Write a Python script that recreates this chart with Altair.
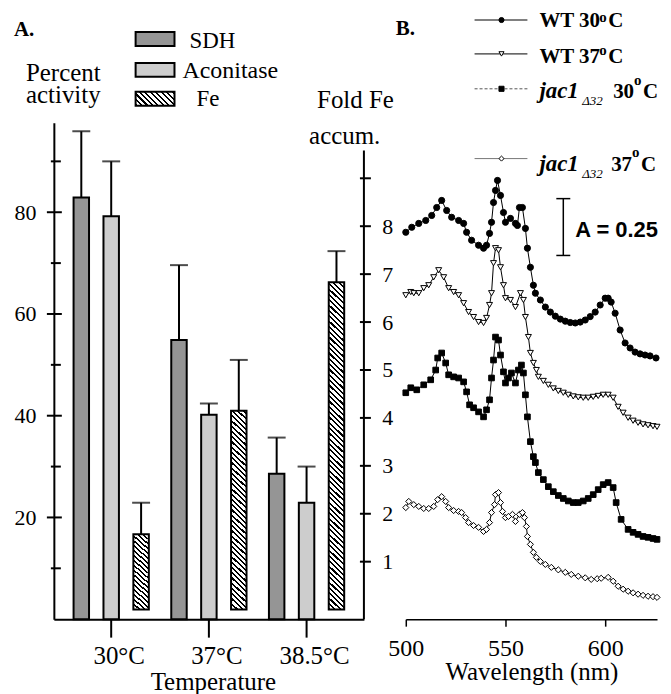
import math
import altair as alt
import pandas as pd

SERIF = "Liberation Serif"
SANS = "Liberation Sans"

# ---------------- Panel A data ----------------
temps = ["30°C", "37°C", "38.5°C"]
measures = ["SDH", "Aconitase", "Fe"]
sdh = [82.9, 54.9, 28.6]
sdh_err = [13.0, 14.7, 7.1]
acon = [79.2, 40.2, 22.9]
acon_err = [10.8, 2.2, 7.1]
fe = [1.57, 4.15, 6.83]
fe_err = [0.66, 1.06, 0.65]
pct_major = [20, 40, 60, 80]
pct_minor = [10, 30, 50, 70, 90]
fold_ticks = [1, 2, 3, 4, 5, 6, 7, 8, 9]
fold_labels = [1, 2, 3, 4, 5, 6, 7, 8]
fold_axis_span = [-0.2, 9.58]

# ---------------- Panel B data (offset absorbance) ----------------
wt30_nm = [500, 503, 506.5, 510, 513, 515.5, 518, 520.5, 523, 526.5,
           529, 530.5, 533, 536.5, 539, 540.5, 542, 543, 544, 545,
           546, 547.5, 549, 550, 552.5, 555, 556, 557, 558.5, 560,
           561, 562.5, 564, 565, 567.5, 570, 572.5, 575, 577.5, 580,
           582.5, 585, 587.5, 590, 592.5, 595, 597.5, 600, 601.5, 603,
           605, 607.5, 610, 612.5, 615, 617.5, 620, 622.5, 625.5]
wt30_a = [1.702, 1.724, 1.741, 1.754, 1.776, 1.811, 1.842, 1.798, 1.768, 1.754,
          1.741, 1.702, 1.667, 1.645, 1.632, 1.645, 1.697, 1.746, 1.833, 1.886,
          1.930, 1.864, 1.789, 1.746, 1.763, 1.741, 1.732, 1.811, 1.811, 1.719,
          1.632, 1.548, 1.469, 1.434, 1.404, 1.373, 1.351, 1.333, 1.320, 1.311,
          1.305, 1.303, 1.307, 1.316, 1.331, 1.351, 1.382, 1.412, 1.412, 1.395,
          1.346, 1.272, 1.215, 1.193, 1.175, 1.167, 1.162, 1.158, 1.149]

wt37_nm = [500, 502.5, 504, 506.5, 509, 511.5, 514, 516.5, 519, 521.5,
           524, 526.5, 529, 531.5, 534, 536.5, 539, 540.5, 542, 543,
           544, 545, 546.5, 547.5, 549, 550, 552.5, 555, 557.5, 559,
           560, 561.5, 562.5, 564, 565.5, 566.5, 569, 571.5, 574, 576.5,
           579, 581.5, 584, 586.5, 589, 591.5, 594, 596.5, 599, 601.5,
           604, 606.5, 609, 611.5, 614, 616.5, 619, 621.5, 624, 626]
wt37_a = [1.425, 1.439, 1.434, 1.434, 1.456, 1.469, 1.504, 1.535, 1.504, 1.456,
          1.439, 1.425, 1.390, 1.351, 1.329, 1.307, 1.303, 1.325, 1.382, 1.434,
          1.566, 1.632, 1.623, 1.548, 1.469, 1.412, 1.404, 1.373, 1.434, 1.404,
          1.329, 1.241, 1.171, 1.127, 1.096, 1.066, 1.048, 1.031, 1.015, 1.004,
          0.996, 0.987, 0.980, 0.976, 0.974, 0.974, 0.978, 0.982, 0.987, 0.987,
          0.974, 0.934, 0.908, 0.886, 0.873, 0.864, 0.857, 0.853, 0.849, 0.846]

jac30_nm = [500, 502.5, 505.5, 509, 512.5, 515, 516, 518, 520, 521.5,
            524, 526.5, 529, 530.5, 532, 534, 536.5, 539, 540.5, 542,
            543, 544, 545, 546.5, 547.5, 549, 550, 551.5, 553, 555,
            556.5, 558, 559, 560, 561, 562.5, 564, 565, 566.5, 569,
            571.5, 574, 576.5, 579, 581.5, 584, 586.5, 589, 591.5, 594,
            596.5, 599, 601.5, 604, 605.5, 608, 611.5, 614, 616.5, 619,
            621.5, 624, 626]
jac30_a = [0.996, 1.018, 1.009, 1.031, 1.053, 1.096, 1.149, 1.171, 1.127, 1.075,
           1.066, 1.061, 1.044, 1.000, 0.943, 0.930, 0.912, 0.890, 0.921, 0.965,
           1.061, 1.140, 1.241, 1.228, 1.162, 1.088, 1.039, 1.061, 1.083, 1.039,
           1.096, 1.118, 1.083, 0.987, 0.890, 0.781, 0.715, 0.689, 0.645, 0.614,
           0.583, 0.561, 0.544, 0.531, 0.520, 0.513, 0.513, 0.520, 0.531, 0.548,
           0.570, 0.592, 0.601, 0.579, 0.513, 0.439, 0.395, 0.382, 0.373, 0.364,
           0.360, 0.355, 0.351]

jac37_nm = [500, 501.5, 504, 506.5, 509, 511.5, 514, 516, 518, 520,
            521.5, 524, 526.5, 528, 530, 531.5, 534, 536.5, 539, 540.5,
            542, 543, 544.5, 545, 546.5, 547.5, 548.5, 550, 551.5, 553.5,
            555, 557, 558.5, 559.5, 560.5, 561, 562.5, 564, 565.5, 567.5,
            570, 573, 576.5, 580, 583, 586.5, 590, 593, 596, 598,
            601.5, 604, 606.5, 609, 611.5, 614, 616.5, 619, 621.5, 624,
            626]
jac37_a = [0.491, 0.518, 0.504, 0.496, 0.487, 0.487, 0.496, 0.526, 0.539, 0.518,
           0.491, 0.478, 0.474, 0.469, 0.447, 0.425, 0.412, 0.404, 0.386, 0.395,
           0.425, 0.469, 0.504, 0.548, 0.557, 0.513, 0.474, 0.447, 0.452, 0.461,
           0.430, 0.461, 0.469, 0.447, 0.408, 0.364, 0.329, 0.294, 0.272, 0.254,
           0.241, 0.228, 0.217, 0.206, 0.197, 0.189, 0.182, 0.175, 0.178, 0.180,
           0.184, 0.167, 0.145, 0.132, 0.123, 0.116, 0.110, 0.105, 0.101, 0.099,
           0.096]

wl_ticks = [500, 550, 600]
scale_bar_nm = 579
scale_bar = [1.60, 1.85]          # A = 0.25
scale_cap_nm = [575.5, 582.5]

# ---------------- layout ----------------
WA, H, WB = 311, 498, 252
PCT_DOM = [0, 97.6]
FOLD_DOM = [-0.2, 10.16]
G_PO = 0.087
O_PI, O_PO = 0.483, 0.375
ANCHOR_X, ANCHOR_Y = -50, -130          # invisible layout anchor (top-left bound)
PAD_LEFT, PAD_TOP = 46 + ANCHOR_X, 114 + ANCHOR_Y

dummy = alt.Data(values=[{"k": 1}])


def txt(s, x, y, size=24, weight="normal", style="normal", font=SERIF,
        align="left", baseline="alphabetic"):
    return alt.Chart(dummy).mark_text(
        text=s, align=align, baseline=baseline, font=font, fontSize=size,
        fontWeight=weight, fontStyle=style, color="black"
    ).encode(x=alt.value(x), y=alt.value(y))


def hatch(w, h, period=5.5, frac=0.4):
    perp = period / math.sqrt(2)
    n = (w + h) / math.sqrt(2) / perp
    s = (w + h) / (w * w + h * h)
    stops = []
    k = 0
    while k / n < 1:
        a = round(k / n, 5)
        b = round(min((k + frac) / n, 1), 5)
        c = round(min((k + 1) / n, 1), 5)
        stops += [{"offset": a, "color": "black"}, {"offset": b, "color": "black"},
                  {"offset": b, "color": "white"}, {"offset": c, "color": "white"}]
        k += 1
    return {"gradient": "linear", "x1": 0, "y1": 1, "x2": s * w, "y2": 1 - s * h,
            "stops": stops}


step_g = WA / (3 + 2 * G_PO)
bar_w = step_g / (3 - O_PI + 2 * O_PO) * (1 - O_PI)

x_scale = alt.Scale(domain=temps, paddingInner=0, paddingOuter=G_PO)
xo_scale = alt.Scale(domain=measures, paddingInner=O_PI, paddingOuter=O_PO)
pct_scale = alt.Scale(domain=PCT_DOM, nice=False, zero=False)
fold_scale = alt.Scale(domain=FOLD_DOM, nice=False, zero=False)

x_axis = alt.Axis(title="Temperature", labelFontSize=25, labelOffset=8, labelPadding=6,
                  tickSize=18, tickWidth=2, domainWidth=2, titleFontSize=25,
                  titlePadding=2, labelAngle=0, titleX=WA / 2 + 4)
x_enc = alt.X("temp:N", scale=x_scale, axis=x_axis)
xo_enc = alt.XOffset("measure:N", scale=xo_scale)

left_axis = alt.Axis(orient="left", values=pct_major, ticks=False, domainWidth=2,
                     labelPadding=18, labelFontSize=22, title=None, grid=False)
right_axis = alt.Axis(orient="right", values=fold_labels, ticks=False, domain=False,
                      labelPadding=18, labelFontSize=22, title=None, grid=False)


def ypct(f):
    return alt.Y(f, scale=pct_scale, axis=left_axis)


def yfold(f):
    return alt.Y(f, scale=fold_scale, axis=right_axis)


df_act = pd.DataFrame({
    "temp": temps * 2,
    "measure": ["SDH"] * 3 + ["Aconitase"] * 3,
    "value": sdh + acon,
    "err": sdh_err + acon_err,
})
df_act["upper"] = df_act["value"] + df_act["err"]

df_fe = pd.DataFrame({"temp": temps, "measure": ["Fe"] * 3, "value": fe, "err": fe_err})
df_fe["upper"] = df_fe["value"] + df_fe["err"]

bars_act = alt.Chart(df_act).mark_bar(stroke="black", strokeWidth=2).encode(
    x=x_enc, xOffset=xo_enc, y=ypct("value:Q"),
    color=alt.Color("measure:N", scale=alt.Scale(domain=["SDH", "Aconitase"],
                                                 range=["#959595", "#cdcdcd"]), legend=None))
err_act = alt.Chart(df_act).mark_rule(color="black", strokeWidth=2).encode(
    x=x_enc, xOffset=xo_enc, y=ypct("value:Q"), y2="upper:Q")
cap_act = alt.Chart(df_act).mark_tick(color="black", thickness=2, size=18).encode(
    x=x_enc, xOffset=xo_enc, y=ypct("upper:Q"))

tick_major = alt.Chart(pd.DataFrame({"v": pct_major})).mark_rule(color="black", strokeWidth=2).encode(
    x=alt.value(-7), x2=alt.value(8), y=ypct("v:Q"))
tick_minor = alt.Chart(pd.DataFrame({"v": pct_minor})).mark_rule(color="black", strokeWidth=2).encode(
    x=alt.value(-3), x2=alt.value(7), y=ypct("v:Q"))

anchor = alt.Chart(dummy).mark_rule(strokeWidth=0.01, opacity=0).encode(
    x=alt.value(ANCHOR_X), x2=alt.value(ANCHOR_X + 1),
    y=alt.value(ANCHOR_Y), y2=alt.value(ANCHOR_Y + 1))

annotA = [
    anchor,
    txt("A.", -40, -87, size=21, weight="bold"),
    txt("Percent", -28, -42, size=25),
    txt("activity", -28, -20, size=25),
    txt("Fold Fe", 264, -15, size=25),
    txt("accum.", 256, 21, size=25),
    txt("SDH", 136, -75, size=23),
    txt("Aconitase", 129, -45, size=24),
    txt("Fe", 143, -17, size=23),
    alt.Chart(dummy).mark_rect(fill="#959595", stroke="black", strokeWidth=2).encode(
        x=alt.value(82), x2=alt.value(121), y=alt.value(-91), y2=alt.value(-77)),
    alt.Chart(dummy).mark_rect(fill="#cdcdcd", stroke="black", strokeWidth=2).encode(
        x=alt.value(82), x2=alt.value(121), y=alt.value(-60), y2=alt.value(-46)),
    alt.Chart(dummy).mark_rect(fill=hatch(39, 14), stroke="black", strokeWidth=2).encode(
        x=alt.value(82), x2=alt.value(121), y=alt.value(-31), y2=alt.value(-17)),
]

fe_layers = []
for i, t in enumerate(temps):
    h_px = H * (fe[i] - FOLD_DOM[0]) / (FOLD_DOM[1] - FOLD_DOM[0])
    fe_layers.append(
        alt.Chart(df_fe[df_fe["temp"] == t]).mark_bar(
            fill=hatch(bar_w, h_px), stroke="black", strokeWidth=2).encode(
            x=x_enc, xOffset=xo_enc, y=yfold("value:Q"), y2=alt.value(H)))
err_fe = alt.Chart(df_fe).mark_rule(color="black", strokeWidth=2).encode(
    x=x_enc, xOffset=xo_enc, y=yfold("value:Q"), y2="upper:Q")
cap_fe = alt.Chart(df_fe).mark_tick(color="black", thickness=2, size=18).encode(
    x=x_enc, xOffset=xo_enc, y=yfold("upper:Q"))
raxis = alt.Chart(pd.DataFrame({"lo": [fold_axis_span[0]], "hi": [fold_axis_span[1]]})).mark_rule(
    color="black", strokeWidth=2).encode(x=alt.value(WA), y=yfold("lo:Q"), y2="hi:Q")
rticks = alt.Chart(pd.DataFrame({"v": fold_ticks})).mark_rule(color="black", strokeWidth=2).encode(
    x=alt.value(WA - 4), x2=alt.value(WA + 7), y=yfold("v:Q"))

left_group = alt.layer(bars_act, err_act, cap_act, tick_major, tick_minor, *annotA)
fe_group = alt.layer(*fe_layers, err_fe, cap_fe, raxis, rticks)
panelA = alt.layer(left_group, fe_group).resolve_scale(y="independent").properties(
    width=WA, height=H)

# ---------------- Panel B ----------------
xs_b = alt.Scale(domain=[500, 626], nice=False, zero=False)
ys_b = alt.Scale(domain=[0, 2.184], nice=False, zero=False)
xb_axis = alt.Axis(values=wl_ticks, title="Wavelength (nm)", tickSize=7, tickWidth=1.5,
                   domainWidth=1.5, labelFontSize=24, labelPadding=10, labelFlush=False,
                   titleFontSize=25, titlePadding=0, grid=False)


def xb(f):
    return alt.X(f, scale=xs_b, axis=xb_axis)


def yb(f):
    return alt.Y(f, scale=ys_b, axis=None)


series = [
    (wt30_nm, wt30_a, "circle", "black", 38),
    (wt37_nm, wt37_a, "triangle-down", "white", 36),
    (jac30_nm, jac30_a, "square", "black", 32),
    (jac37_nm, jac37_a, "diamond", "white", 38),
]
layersB = []
for nm, a, shape, fill, size in series:
    df = pd.DataFrame({"nm": nm, "A": a})
    base = alt.Chart(df).encode(x=xb("nm:Q"), y=yb("A:Q"))
    layersB.append(base.mark_line(color="black", strokeWidth=1))
    layersB.append(base.mark_point(shape=shape, filled=True, fill=fill, stroke="black",
                                   strokeWidth=1, size=size, opacity=1))

bar_df = pd.DataFrame({"nm": [scale_bar_nm], "lo": [scale_bar[0]], "hi": [scale_bar[1]]})
layersB.append(alt.Chart(bar_df).mark_rule(color="black", strokeWidth=1.5).encode(
    x=xb("nm:Q"), y=yb("lo:Q"), y2="hi:Q"))
cap_df = pd.DataFrame({"a": [scale_cap_nm[0]] * 2, "b": [scale_cap_nm[1]] * 2, "y": scale_bar})
layersB.append(alt.Chart(cap_df).mark_rule(color="black", strokeWidth=1.5).encode(
    x=xb("a:Q"), x2="b:Q", y=yb("y:Q")))

# legend B
leg_rows = [(-103, "circle", "black", "black", None),
            (-69, "triangle-down", "white", "black", None),
            (-34, "square", "black", "#555555", [3, 2]),
            (36, "diamond", "white", "#777777", None)]
for y, shape, fill, lcol, dash in leg_rows:
    kw = {"strokeDash": dash} if dash else {}
    layersB.append(alt.Chart(dummy).mark_rule(color=lcol, strokeWidth=1, **kw).encode(
        x=alt.value(69), x2=alt.value(122), y=alt.value(y)))
    layersB.append(alt.Chart(dummy).mark_point(shape=shape, filled=True, fill=fill, stroke="black",
                                               strokeWidth=1, size=26, opacity=1).encode(
        x=alt.value(96), y=alt.value(y)))

annotB = [
    txt("B.", -10, -88, size=21, weight="bold"),
    txt("WT 30", 134, -96, size=21, weight="bold"),
    txt("o", 194, -101, size=15, weight="bold"),
    txt("C", 203, -96, size=21, weight="bold"),
    txt("WT 37", 134, -60, size=21, weight="bold"),
    txt("o", 194, -68, size=15, weight="bold"),
    txt("C", 203, -60, size=21, weight="bold"),
    txt("jac1", 134, -25, size=23, weight="bold", style="italic"),
    txt("Δ32", 177, -18, size=13, style="italic"),
    txt("30", 208, -25, size=21, weight="bold"),
    txt("o", 229, -38, size=15, weight="bold"),
    txt("C", 238, -25, size=21, weight="bold"),
    txt("jac1", 134, 48, size=23, weight="bold", style="italic"),
    txt("Δ32", 177, 55, size=13, style="italic"),
    txt("37", 206, 48, size=21, weight="bold"),
    txt("o", 227, 34, size=15, weight="bold"),
    txt("C", 236, 48, size=21, weight="bold"),
    txt("A = 0.25", 170, 115, size=22, weight="bold", font=SANS),
]

panelB = alt.layer(*layersB, *annotB).properties(width=WB, height=H)

chart = alt.hconcat(panelA, panelB, spacing=42, bounds="flush").configure_view(
    stroke=None
).configure_axis(
    labelColor="black", titleColor="black", domainColor="black", tickColor="black",
    labelFont=SERIF, titleFont=SERIF, titleFontWeight="normal", grid=False
).properties(padding={"left": PAD_LEFT, "top": PAD_TOP, "right": 0, "bottom": 0})

chart.save("out.html", embed_options={"renderer": "svg", "actions": False})
